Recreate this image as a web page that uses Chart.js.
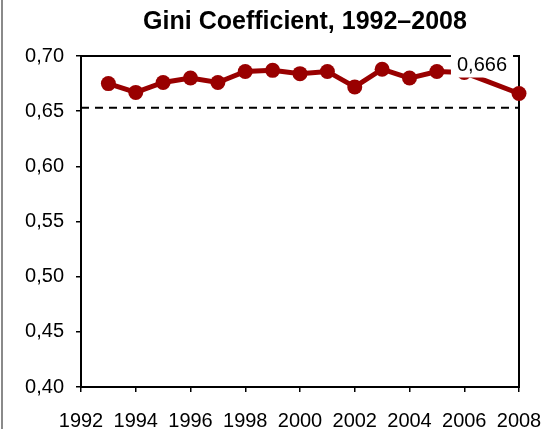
<!DOCTYPE html>
<html>
<head>
<meta charset="utf-8">
<script src="https://cdn.jsdelivr.net/npm/chart.js@4.4.1/dist/chart.umd.min.js"></script>
<style>
  html, body { margin: 0; padding: 0; background: #fff; }
  #wrap { width: 551px; height: 429px; }
</style>
</head>
<body>
<div id="wrap"><canvas id="gini"></canvas></div>
<script>
// data
const years = ['1992', '1993', '1994', '1995', '1996', '1997', '1998', '1999', '2000',
               '2001', '2002', '2003', '2004', '2005', '2006', '2007', '2008'];
const gini = [null, 0.675, 0.667, 0.676, 0.680, 0.676, 0.686, 0.687, 0.684,
              0.686, 0.672, 0.688, 0.680, 0.686, 0.685, null, 0.666];
const refLevel = 0.653;
const lastLabel = '0,666';
const titleText = 'Gini Coefficient, 1992–2008';

const FONT = 'Liberation Sans, Arial, sans-serif';

// title over the plot, plot frame, outer left edge and the value label on the last point
const framePlugin = {
  id: 'frame',
  beforeDatasetsDraw(chart) {
    const { ctx, chartArea: a } = chart;
    ctx.save();
    ctx.strokeStyle = '#000';
    ctx.lineWidth = 2;
    ctx.strokeRect(a.left, a.top, a.right - a.left, a.bottom - a.top);
    ctx.strokeStyle = '#8a8a8a';
    ctx.beginPath();
    ctx.moveTo(2, 0);
    ctx.lineTo(2, chart.height);
    ctx.stroke();
    // title, centred a little right of the plot middle as in the original
    ctx.fillStyle = '#000';
    ctx.font = 'bold 25px ' + FONT;
    ctx.textAlign = 'center';
    ctx.textBaseline = 'middle';
    ctx.fillText(titleText, 305, 22);
    ctx.restore();
  },
  afterDatasetsDraw(chart) {
    const { ctx } = chart;
    const pts = chart.getDatasetMeta(1).data;
    const pt = pts[pts.length - 1];
    ctx.save();
    ctx.font = '20px ' + FONT;
    const w = ctx.measureText(lastLabel).width;
    const right = pt.x - 12, cy = pt.y - 29;
    ctx.fillStyle = '#fff';
    ctx.fillRect(right - w - 6, cy - 13, w + 12, 26);
    ctx.fillStyle = '#000';
    ctx.textAlign = 'right';
    ctx.textBaseline = 'middle';
    ctx.fillText(lastLabel, right, cy + 1);
    ctx.restore();
  }
};

new Chart(document.getElementById('gini').getContext('2d'), {
  type: 'line',
  data: {
    labels: years,
    datasets: [{
      data: years.map(() => refLevel),
      borderColor: '#000',
      borderWidth: 2,
      borderDash: [8, 6],
      pointRadius: 0,
      fill: false
    }, {
      data: gini,
      borderColor: '#990000',
      backgroundColor: '#990000',
      borderWidth: 5,
      pointRadius: 7.5,
      pointBackgroundColor: '#990000',
      pointBorderWidth: 0,
      spanGaps: true,
      clip: false,
      fill: false
    }]
  },
  options: {
    responsive: true,
    maintainAspectRatio: false,
    animation: false,
    layout: { padding: { left: 0, right: 32, top: 56, bottom: 0 } },
    plugins: {
      legend: { display: false },
      tooltip: { enabled: false },
      title: { display: false }
    },
    scales: {
      x: {
        type: 'category',
        offset: false,
        border: { color: '#000', width: 2 },
        grid: { drawOnChartArea: false, drawTicks: true, tickLength: 5, color: '#000', lineWidth: 1.5 },
        ticks: {
          autoSkip: false,
          maxRotation: 0,
          padding: 17,
          color: '#000',
          font: { family: FONT, size: 20 },
          callback: (v, i) => (i % 2 === 0 ? years[i] : null)
        },
        afterFit: s => { s.height = 42; s.paddingLeft = 0; s.paddingRight = 0; }
      },
      y: {
        min: 0.40,
        max: 0.70,
        border: { color: '#000', width: 2 },
        grid: { drawOnChartArea: false, drawTicks: true, tickLength: 5, color: '#000', lineWidth: 1.5 },
        ticks: {
          stepSize: 0.05,
          padding: 12,
          color: '#000',
          font: { family: FONT, size: 20 },
          callback: v => v.toFixed(2).replace('.', ',')
        },
        afterFit: s => { s.width = 81; s.paddingTop = 0; s.paddingBottom = 0; }
      }
    }
  },
  plugins: [framePlugin]
});
</script>
</body>
</html>
